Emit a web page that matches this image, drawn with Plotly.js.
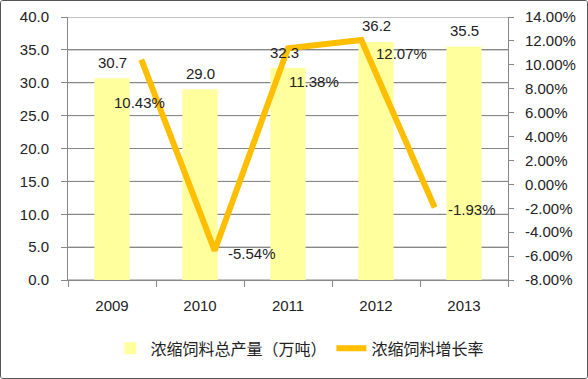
<!DOCTYPE html>
<html>
<head>
<meta charset="utf-8">
<script src="https://cdn.plot.ly/plotly-3.0.1.min.js"></script>
<style>
html,body{margin:0;padding:0;background:#fff;}
#frame{width:586px;height:377px;border:1px solid #555;border-radius:3px;overflow:hidden;position:relative;}
#chart{width:586px;height:377px;}
</style>
</head>
<body>
<div id="frame"><div id="chart"></div></div>
<script>
// Data
const years = ['2009', '2010', '2011', '2012', '2013'];
const output = [30.7, 29.0, 32.3, 36.2, 35.5];          // 浓缩饲料总产量（万吨）
const growth = [10.43, -5.54, 11.38, 12.07, -1.93];     // 浓缩饲料增长率 (%)
const leftTicks = [0, 5, 10, 15, 20, 25, 30, 35, 40];
const rightTicks = [-8, -6, -4, -2, 0, 2, 4, 6, 8, 10, 12, 14];
const barName = '浓缩饲料总产量（万吨）';
const lineName = '浓缩饲料增长率';

// label offsets in pixels (styling)
const lineLabelShift = [[-2, -43], [37, -3], [26, -33], [40, -13], [37, -2]];
const barLabelShift = [[0, 16], [0, 16], [-4, 15], [0, 16], [0, 16]];

function mkFont(size){ return {family: '"Liberation Sans", "Noto Sans CJK SC", sans-serif', size: size || 15, color: '#222'}; }
const gray = '#878787';

const traces = [
  {type: 'bar', name: barName, x: years, y: output, marker: {color: '#FFFF9E'}, width: 0.4},
  {type: 'scatter', mode: 'lines', name: lineName, x: years, y: growth,
   line: {color: '#FFBF00', width: 6}, xaxis: 'x2', yaxis: 'y2'}
];

const annotations = [];
years.forEach((yr, i) => {
  annotations.push({xref: 'x', yref: 'y', x: i, y: output[i], text: output[i].toFixed(1),
    showarrow: false, xshift: barLabelShift[i][0], yshift: barLabelShift[i][1], font: mkFont()});
  annotations.push({xref: 'x2', yref: 'y2', x: i, y: growth[i], text: growth[i].toFixed(2) + '%',
    showarrow: false, xshift: lineLabelShift[i][0], yshift: lineLabelShift[i][1], font: mkFont()});
});

// gridlines as shapes at left-axis tick values (through the y scale)
const shapes = leftTicks.map(v => ({
  type: 'line', xref: 'paper', yref: 'y', x0: 0, x1: 1, y0: v, y1: v,
  line: {color: gray, width: 1}, layer: 'below'
}));

const layout = {
  width: 586, height: 377, margin: {l: 67, r: 79, t: 16, b: 95},
  paper_bgcolor: '#fff', plot_bgcolor: '#fff', font: mkFont(), showlegend: true,
  legend: {orientation: 'h', x: 0.527, xanchor: 'center', y: -0.26, yanchor: 'middle', font: mkFont(16)},
  xaxis: {type: 'category', range: [-0.5, 4.5], showgrid: false, showline: true, linecolor: gray,
    ticks: 'outside', ticklen: 6, tickcolor: gray, tickson: 'boundaries', tickfont: mkFont(),
    ticklabelstandoff: 12, zeroline: false},
  xaxis2: {type: 'category', overlaying: 'x', range: [-1, 5], visible: false},
  yaxis: {range: [0, 40], tickvals: leftTicks, ticktext: leftTicks.map(v => v.toFixed(1)),
    showgrid: true, gridcolor: gray, gridwidth: 1,
    showline: true, linecolor: gray, ticks: 'outside', ticklen: 6, tickcolor: gray, tickfont: mkFont(),
    ticklabelstandoff: 9, zeroline: false},
  yaxis2: {overlaying: 'y', side: 'right', range: [-8, 14], tickvals: rightTicks,
    ticktext: rightTicks.map(v => v.toFixed(2) + '%'), showgrid: false, showline: true, linecolor: gray,
    ticks: 'outside', ticklen: 5, tickcolor: gray, tickfont: mkFont(),
    ticklabelstandoff: 8, zeroline: false},
  annotations: annotations,
  shapes: shapes
};
Plotly.newPlot('chart', traces, layout, {displayModeBar: false}).then(gd => {
  const m = document.createElement('div');
  m.id = 'rendered';
  m.style.display = 'none';
  document.body.appendChild(m);
});
</script>
</body>
</html>
